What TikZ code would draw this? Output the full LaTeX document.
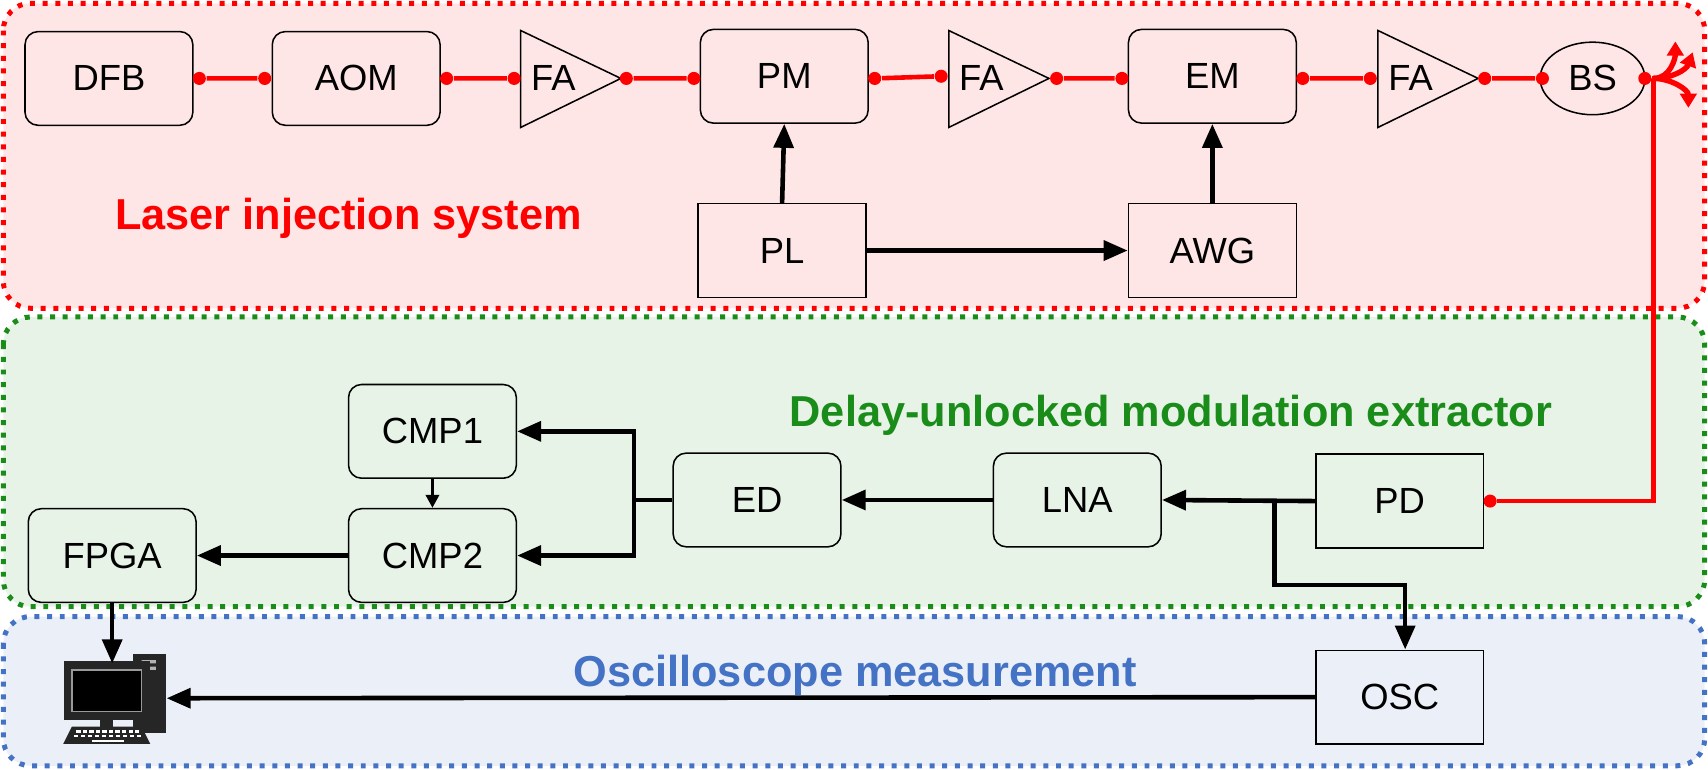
\documentclass[tikz,border=0pt]{standalone}
\usepackage{fontspec}
\setmainfont{Liberation Sans}
\usetikzlibrary{arrows.meta,shapes.geometric}
\definecolor{rbg}{HTML}{FFE6E6}
\definecolor{gbg}{HTML}{E8F3E8}
\definecolor{bbg}{HTML}{EBF0F8}
\definecolor{gtx}{HTML}{1A8C1A}
\definecolor{btx}{HTML}{4472C4}
\begin{document}
\begin{tikzpicture}[x=0.01cm,y=-0.01cm,
 box/.style={draw,thin,rounded corners=0.12cm,minimum width=1.54cm,minimum height=0.86cm,font=\fontsize{9.5}{11}\selectfont,inner sep=0},
 sbox/.style={box,rounded corners=0},
 lab/.style={font=\fontsize{9.5}{11}\selectfont,inner sep=0},
 dot/.style={circle,fill=red,inner sep=0,minimum size=0.12cm},
 rl/.style={red,line width=1.2pt},
 ar/.style={line width=1.2pt,-{Triangle[length=0.22cm,width=0.18cm]}},
 ttl/.style={font=\fontsize{11.3}{14}\selectfont\bfseries}]
\useasboundingbox (0,0) rectangle (1568,706);
\draw[red,dotted,line width=1.3pt,fill=rbg,rounded corners=0.25cm] (3,3) rectangle (1565,283);
\draw[gtx,dotted,line width=1.3pt,fill=gbg,rounded corners=0.25cm] (3,291) rectangle (1565,557);
\draw[btx,dotted,line width=1.3pt,fill=bbg,rounded corners=0.25cm] (3,566) rectangle (1565,703);
\node[ttl,red] (t1) at (320,200) {Laser injection system};
\node[ttl,gtx] (t2) at (1075,381) {Delay-unlocked modulation extractor};
\node[ttl,btx] (t3) at (785,620) {Oscilloscope measurement};
% top row
\node[box] (dfb) at (100,72) {DFB};
\node[box] (aom) at (327,72) {AOM};
\draw[thin] (478,28)--(570,72)--(478,117)--cycle;
\node[lab] (fa1) at (508,72) {FA};
\node[box] (pm) at (720,70) {PM};
\draw[thin] (871,28)--(963,72)--(871,117)--cycle;
\node[lab] (fa2) at (901,72) {FA};
\node[box] (em) at (1113,70) {EM};
\draw[thin] (1265,28)--(1357,72)--(1265,117)--cycle;
\node[lab] (fa3) at (1295,72) {FA};
\node[draw,thin,ellipse,minimum width=0.9cm,minimum height=0.55cm,font=\fontsize{9.5}{11}\selectfont] (bs) at (1462,72) {BS};
\node[sbox] (pl) at (718,230) {PL};
\node[sbox] (awg) at (1113,230) {AWG};
\foreach \n/\x/\y in {d1/183/72,d2/243/72,d3/410/72,d4/472/72,d5/575/72,d6/637/72,d7/803/72,d8/864/70,d9/970/72,d10/1030/72,d11/1196/72,d12/1258/72,d13/1363/72,d14/1416/72,d15/1510/72}
 \node[dot] (\n) at (\x,\y) {};
\draw[rl] (d1)--(d2) (d3)--(d4) (d5)--(d6) (d7)--(d8) (d9)--(d10) (d11)--(d12) (d13)--(d14);
\draw[ar] (pl.north)--(pm.south);
\draw[ar] (awg.north)--(em.south);
\draw[ar] (pl.east)--(awg.west);
% middle
\node[box] (cmp1) at (397,396) {CMP1};
\node[box] (cmp2) at (397,510) {CMP2};
\node[box] (ed) at (695,459) {ED};
\node[box] (lna) at (989,459) {LNA};
\node[sbox] (pd) at (1285,460) {PD};
\node[box] (fpga) at (103,510) {FPGA};
\node[sbox] (osc) at (1285,640) {OSC};
\node[dot] (dpd) at (1368,460) {};
\coordinate (c1) at (1518,460);
\coordinate (c2) at (1518,72);
\draw[rl] (dpd)--(c1)--(c2)--(d15);
\coordinate (a1) at (1538,38);
\coordinate (a2) at (1554,48);
\coordinate (a3) at (1550,99);
\draw[red,line width=1.4pt,-{Triangle[length=0.13cm,width=0.15cm]}] (c2) to[out=0,in=-90] (a1);
\draw[red,line width=1.4pt,-{Triangle[length=0.13cm,width=0.15cm]}] (c2) to[out=0,in=-110] (a2);
\draw[red,line width=1.4pt,-{Triangle[length=0.13cm,width=0.15cm]}] (c2) to[out=0,in=90] (a3);
\draw[ar] (pd.west)--(lna.east);
\coordinate (b1) at (1170,460);
\coordinate (b2) at (1170,537);
\coordinate (b3) at (1290,537);
\draw[ar] (b1)--(b2)--(b3)--(osc.north-|b3);
\draw[ar] (lna.west)--(ed.east);
\coordinate (e1) at (582,459);
\coordinate (e2) at (582,396);
\coordinate (e3) at (582,510);
\draw[line width=1.2pt] (ed.west)--(e1);
\draw[ar] (e1)--(e2)--(cmp1.east);
\draw[ar] (e1)--(e3)--(cmp2.east);
\draw[line width=1pt,-{Triangle[length=0.12cm,width=0.12cm]}] (cmp1.south)--(cmp2.north);
\draw[ar] (cmp2.west)--(fpga.east);
% computer
\fill[black!85] (122,600) rectangle (152,673);
\fill[white!70!black] (130,606) rectangle (143,609) (130,612) rectangle (143,615);
\fill[black!85] (92,657) rectangle (104,668);
\node[draw=black!85,line width=2pt,fill=black,minimum width=0.72cm,minimum height=0.47cm,inner sep=0] (pc) at (98,634) {};
\draw[white!60!black,line width=0.4pt] (66,615) rectangle (130,653);
\fill[black!85] (66,667) -- (130,667) -- (138,683) -- (58,683) -- cycle;
\foreach \i in {0,...,9} \fill[white] (70+\i*6,670) rectangle (74+\i*6,672.5);
\foreach \i in {0,...,9} \fill[white] (68+\i*6.4,674.5) rectangle (72+\i*6.4,677);
\fill[white] (84,679) rectangle (114,681);
\coordinate (pcr) at (153,641);
\coordinate (pct) at (103,609);
\draw[ar] (fpga.south)--(pct);
\draw[ar] (osc.west)--(pcr);
\end{tikzpicture}
\end{document}
